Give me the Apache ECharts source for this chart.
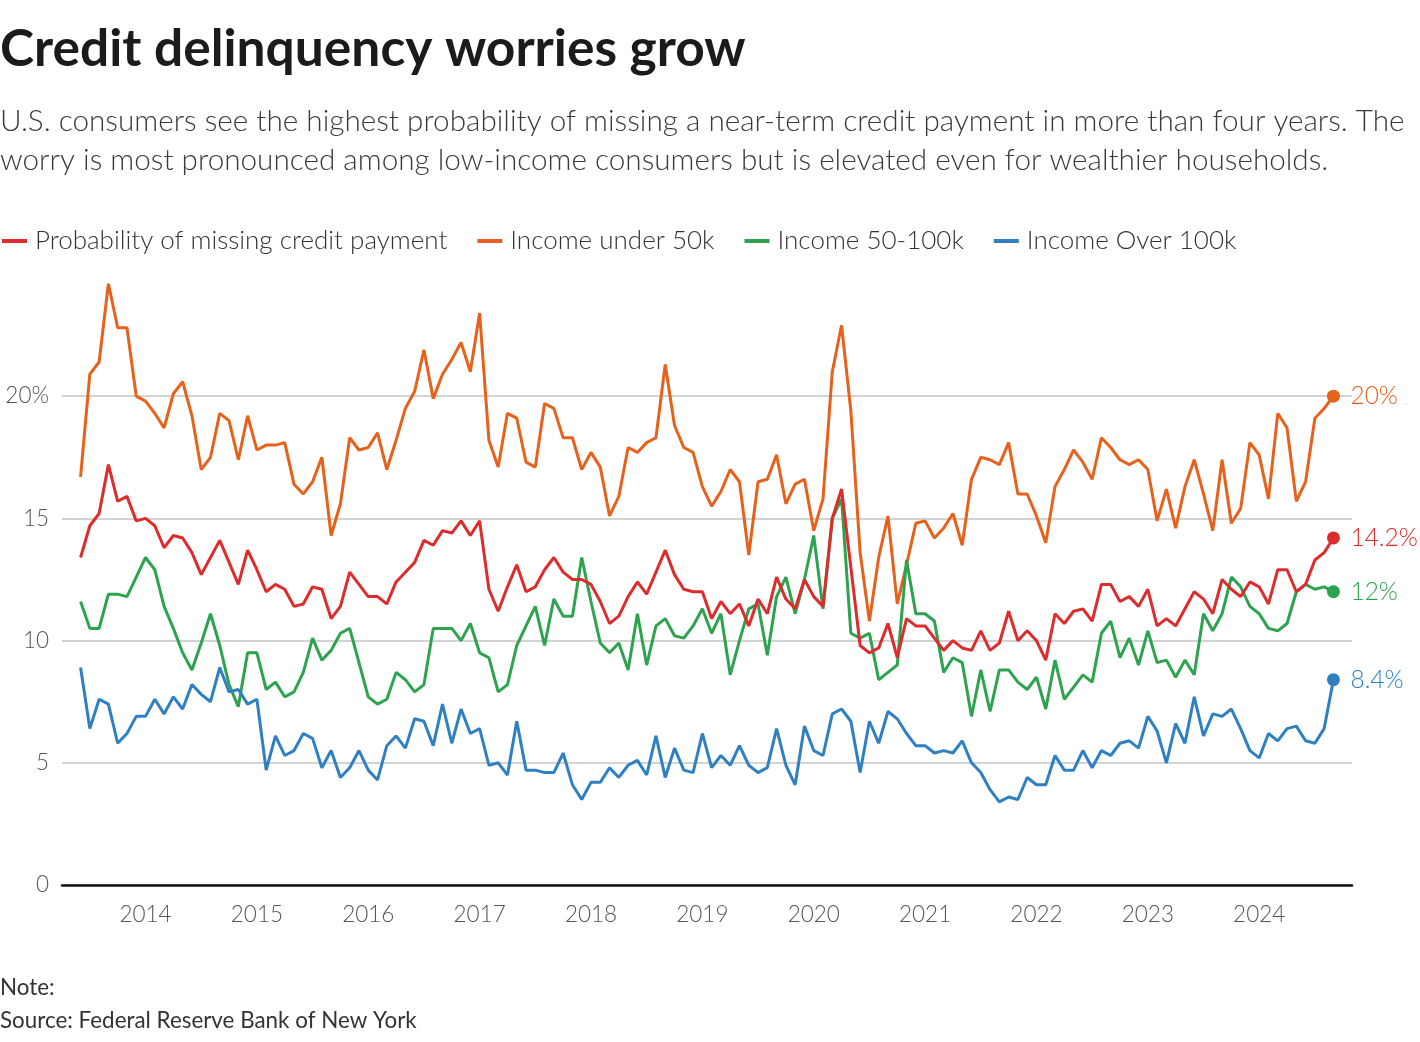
<!DOCTYPE html>
<html><head><meta charset="utf-8">
<script src="https://cdn.jsdelivr.net/npm/echarts@6/dist/echarts.min.js"></script>
<style>html,body{margin:0;padding:0;background:#fff}#c{width:1420px;height:1042px}</style>
</head><body><div id="c"></div>
<script>
// Monthly survey data, June 2013 - September 2024
const startYear = 2013;
const startMonth = 6;
const yearLabels = [2014, 2015, 2016, 2017, 2018, 2019, 2020, 2021, 2022, 2023, 2024];
const yTickValues = [0, 5, 10, 15, 20];
const seriesNames = ['Probability of missing credit payment', 'Income under 50k', 'Income 50-100k', 'Income Over 100k'];
const endLabelTexts = ['14.2%', '20%', '12%', '8.4%'];

const probability = [13.4,14.7,15.2,17.2,15.7,15.9,14.9,15.0,14.7,13.8,14.3,14.2,13.6,12.7,13.4,14.1,13.2,12.3,13.7,12.9,
  12.0,12.3,12.1,11.4,11.5,12.2,12.1,10.9,11.4,12.8,12.3,11.8,11.8,11.5,12.4,12.8,13.2,14.1,13.9,14.5,
  14.4,14.9,14.3,14.9,12.1,11.2,12.2,13.1,12.0,12.2,12.9,13.4,12.8,12.5,12.5,12.3,11.6,10.7,11.0,11.8,
  12.4,11.9,12.8,13.7,12.7,12.1,12.0,12.0,10.9,11.6,11.1,11.5,10.6,11.7,11.1,12.6,11.7,11.3,12.5,11.8,
  11.4,15.0,16.2,13.0,9.8,9.5,9.7,10.7,9.3,10.9,10.6,10.6,10.1,9.6,10.0,9.7,9.6,10.4,9.6,9.9,
  11.2,10.0,10.4,10.0,9.2,11.1,10.7,11.2,11.3,10.8,12.3,12.3,11.6,11.8,11.4,12.1,10.6,10.9,10.6,11.3,
  12.0,11.7,11.1,12.5,12.1,11.8,12.4,12.2,11.5,12.9,12.9,12.0,12.3,13.3,13.6,14.2];

const under50k = [16.7,20.9,21.4,24.6,22.8,22.8,20.0,19.8,19.3,18.7,20.1,20.6,19.2,17.0,17.5,19.3,19.0,17.4,19.2,17.8,
  18.0,18.0,18.1,16.4,16.0,16.5,17.5,14.3,15.6,18.3,17.8,17.9,18.5,17.0,18.2,19.5,20.2,21.9,19.9,20.9,
  21.5,22.2,21.0,23.4,18.2,17.1,19.3,19.1,17.3,17.1,19.7,19.5,18.3,18.3,17.0,17.7,17.1,15.1,15.9,17.9,
  17.7,18.1,18.3,21.3,18.8,17.9,17.7,16.3,15.5,16.1,17.0,16.5,13.5,16.5,16.6,17.6,15.6,16.4,16.6,14.5,
  15.8,21.0,22.9,19.4,13.6,10.8,13.4,15.1,11.5,13.1,14.8,14.9,14.2,14.6,15.2,13.9,16.6,17.5,17.4,17.2,
  18.1,16.0,16.0,15.1,14.0,16.3,17.0,17.8,17.3,16.6,18.3,17.9,17.4,17.2,17.4,17.0,14.9,16.2,14.6,16.3,
  17.4,16.0,14.5,17.4,14.8,15.4,18.1,17.6,15.8,19.3,18.7,15.7,16.5,19.1,19.5,20.0];

const income50to100k = [11.6,10.5,10.5,11.9,11.9,11.8,12.6,13.4,12.9,11.4,10.5,9.5,8.8,9.9,11.1,9.8,8.2,7.3,9.5,9.5,
  8.0,8.3,7.7,7.9,8.7,10.1,9.2,9.6,10.3,10.5,9.1,7.7,7.4,7.6,8.7,8.4,7.9,8.2,10.5,10.5,
  10.5,10.0,10.7,9.5,9.3,7.9,8.2,9.8,10.6,11.4,9.8,11.7,11.0,11.0,13.4,11.6,9.9,9.5,9.9,8.8,
  11.1,9.0,10.6,10.9,10.2,10.1,10.6,11.3,10.3,11.1,8.6,10.0,11.3,11.5,9.4,11.8,12.6,11.1,12.5,14.3,
  11.3,15.0,15.8,10.3,10.1,10.3,8.4,8.7,9.0,13.3,11.1,11.1,10.8,8.7,9.3,9.1,6.9,8.8,7.1,8.8,
  8.8,8.3,8.0,8.5,7.2,9.2,7.6,8.1,8.6,8.3,10.3,10.8,9.3,10.1,9.0,10.4,9.1,9.2,8.5,9.2,
  8.6,11.1,10.4,11.1,12.6,12.2,11.4,11.1,10.5,10.4,10.7,12.0,12.3,12.1,12.2,12.0];

const over100k = [8.9,6.4,7.6,7.4,5.8,6.2,6.9,6.9,7.6,7.0,7.7,7.2,8.2,7.8,7.5,8.9,7.9,8.0,7.4,7.6,
  4.7,6.1,5.3,5.5,6.2,6.0,4.8,5.5,4.4,4.8,5.5,4.7,4.3,5.7,6.1,5.6,6.8,6.7,5.7,7.4,
  5.8,7.2,6.2,6.4,4.9,5.0,4.5,6.7,4.7,4.7,4.6,4.6,5.4,4.1,3.5,4.2,4.2,4.8,4.4,4.9,
  5.1,4.5,6.1,4.4,5.6,4.7,4.6,6.2,4.8,5.3,4.9,5.7,4.9,4.6,4.8,6.4,4.9,4.1,6.5,5.5,
  5.3,7.0,7.2,6.7,4.6,6.7,5.8,7.1,6.8,6.2,5.7,5.7,5.4,5.5,5.4,5.9,5.0,4.6,3.9,3.4,
  3.6,3.5,4.4,4.1,4.1,5.3,4.7,4.7,5.5,4.8,5.5,5.3,5.8,5.9,5.6,6.9,6.3,5.0,6.6,5.8,
  7.7,6.1,7.0,6.9,7.2,6.4,5.5,5.2,6.2,5.9,6.4,6.5,5.9,5.8,6.4,8.4];

const colors = ['#dc2c2c', '#e6611b', '#2ea34f', '#2f80c2'];
const FONT = 'Lato, "Noto Sans", sans-serif';

// month index counted from January of startYear
function monthIndex(i) { return (startMonth - 1) + i; }
function build(values) {
  return values.map(function (v, i) {
    const pt = [monthIndex(i), v];
    if (i === values.length - 1) return { value: pt, symbol: 'circle', symbolSize: 13 };
    return pt;
  });
}
const allValues = [probability, under50k, income50to100k, over100k];
const yearTickPositions = yearLabels.map(function (y) { return (y - startYear) * 12; });

const chart = echarts.init(document.getElementById('c'), null, { renderer: 'canvas' });
chart.setOption({
  animation: false,
  backgroundColor: '#fff',
  textStyle: { fontFamily: FONT },
  graphic: [
    { type: 'text', left: 0, top: 23, style: { text: 'Credit delinquency worries grow', font: '700 51.5px ' + FONT, fill: '#1b1b1b' } },
    { type: 'text', left: 0, top: 106, style: { text: 'U.S. consumers see the highest probability of missing a near-term credit payment in more than four years. The', font: '300 29.7px ' + FONT, fill: '#3a3a3a' } },
    { type: 'text', left: 0, top: 145, style: { text: 'worry is most pronounced among low-income consumers but is elevated even for wealthier households.', font: '300 29.7px ' + FONT, fill: '#3a3a3a' } },
    { type: 'text', left: 0, top: 977, style: { text: 'Note:', font: '400 22.4px ' + FONT, fill: '#333' } },
    { type: 'text', left: 0, top: 1010, style: { text: 'Source: Federal Reserve Bank of New York', font: '400 22.4px ' + FONT, fill: '#333' } }
  ],
  legend: {
    left: 2, top: 228, padding: 0,
    icon: 'rect', itemWidth: 25, itemHeight: 4, itemGap: 30,
    textStyle: { fontSize: 26, fontWeight: 300, color: '#333', fontFamily: FONT, padding: [0, 0, 0, 3] },
    data: seriesNames
  },
  grid: { left: 62, right: 68, top: 274, bottom: 157, containLabel: false },
  xAxis: {
    type: 'value', min: 3, max: 142,
    splitLine: { show: false },
    axisTick: { show: false },
    axisLine: { show: true, onZero: false, lineStyle: { color: '#111', width: 2.5 } },
    axisLabel: {
      customValues: yearTickPositions,
      formatter: function (v) { return String(startYear + Math.round(v / 12)); },
      color: '#555', fontSize: 22.5, fontWeight: 300, margin: 18, fontFamily: FONT
    }
  },
  yAxis: {
    type: 'value', min: 0, max: 25, interval: 5,
    axisLine: { show: false }, axisTick: { show: false },
    splitLine: { show: true, showMaxLine: false, lineStyle: { color: '#c4c4c4', width: 1.5 } },
    axisLabel: {
      customValues: yTickValues,
      formatter: function (v) { return v === 20 ? '20%' : String(v); },
      color: '#555', fontSize: 22.5, fontWeight: 300, margin: 13, fontFamily: FONT
    }
  },
  series: allValues.map(function (vals, k) {
    return {
      name: seriesNames[k], type: 'line', data: build(vals),
      symbol: 'none', showSymbol: true, showAllSymbol: true,
      color: colors[k],
      lineStyle: { width: 3, color: colors[k] },
      itemStyle: { color: colors[k] },
      z: k === 0 ? 5 : 3,
      endLabel: {
        show: true, formatter: endLabelTexts[k], color: colors[k],
        fontSize: 24.5, fontWeight: 300, distance: 17, fontFamily: FONT
      }
    };
  })
});
</script></body></html>
